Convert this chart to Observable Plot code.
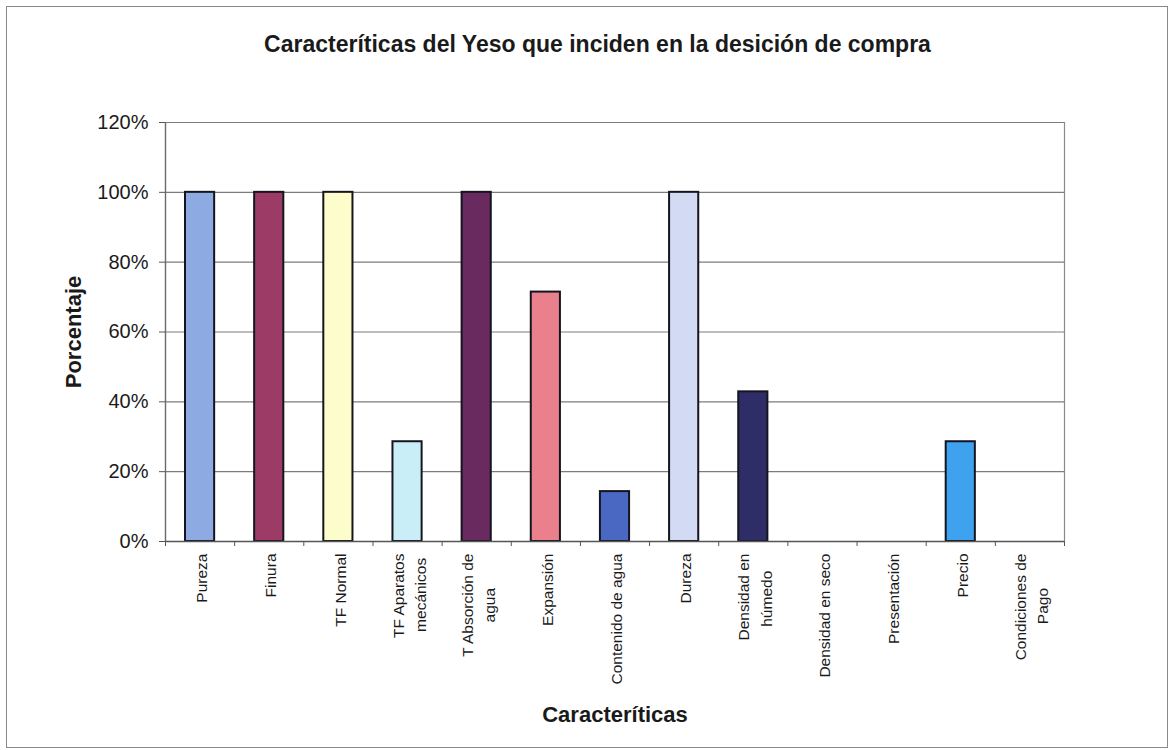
<!DOCTYPE html>
<html>
<head>
<meta charset="utf-8">
<script src="https://cdn.jsdelivr.net/npm/d3@7"></script>
<script src="https://cdn.jsdelivr.net/npm/@observablehq/plot@0.6"></script>
<style>
  html, body { margin: 0; padding: 0; background: #ffffff; }
  body { font-family: "Liberation Sans", Arial, sans-serif; }
  #wrap { position: relative; width: 1171px; height: 750px; overflow: hidden; background: #fff; }
  #frame { position: absolute; left: 6px; top: 6px; width: 1162px; height: 742px; border: 1.5px solid #8a8a8a; box-sizing: border-box; pointer-events: none; }
  #title { position: absolute; left: 12px; top: 31px; width: 1171px; text-align: center; font-weight: bold; font-size: 23px; color: #1a1a1a; white-space: nowrap; }
  #chart { position: absolute; left: 0; top: 0; }
  #chart svg { font-family: "Liberation Sans", Arial, sans-serif; }
  #chart g[aria-label="text"] text { white-space: pre; }
  g[aria-label="y-axis label"] text, g[aria-label="x-axis label"] text { font-size: 22px; font-weight: bold; fill: #1a1a1a; }
</style>
</head>
<body>
<div id="wrap">
  <div id="chart"></div>
  <div id="title">Caracteríticas del Yeso que inciden en la desición de compra</div>
  <div id="frame"></div>
</div>
<script>
const categories = [
  "Pureza", "Finura", "TF Normal", "TF Aparatos\nmecánicos", "T Absorción de\nagua",
  "Expansión", "Contenido de agua", "Dureza", "Densidad en\nhúmedo", "Densidad en seco",
  "Presentación", "Precio", "Condiciones de\nPago"
];
const values = [1.0, 1.0, 1.0, 0.2857, 1.0, 0.7143, 0.1429, 1.0, 0.4286, 0, 0, 0.2857, 0];
const colors = [
  "#8eaae2", "#9c3c66", "#fdfdcc", "#c9eef8", "#692a60",
  "#e9808c", "#4a68c2", "#d2daf4", "#2e2d68", "#9999ff",
  "#ffff99", "#3ea2ee", "#cccccc"
];
const yTicks = [0, 0.2, 0.4, 0.6, 0.8, 1.0, 1.2];

const labelFontSize = 15.5;

// Center the lines of a multi-line label (Excel-style) by padding shorter lines.
const ctx = document.createElement("canvas").getContext("2d");
ctx.font = `${labelFontSize}px "Liberation Sans", Arial, sans-serif`;
const spaceW = ctx.measureText(" ").width;
function centerLines(label) {
  const lines = label.split("\n");
  if (lines.length < 2) return label;
  const widths = lines.map(l => ctx.measureText(l).width);
  const maxW = Math.max(...widths);
  return lines.map((l, k) => l + " ".repeat(Math.max(0, Math.round((maxW - widths[k]) / 2 / spaceW)))).join("\n");
}

const rows = categories.map((c, i) => ({c, label: centerLines(c), i, v: values[i], color: colors[i]}));
const bars = rows.filter(d => d.v > 0);

const chart = Plot.plot({
  width: 1171,
  height: 750,
  marginLeft: 165,
  marginRight: 107,
  marginTop: 122,
  marginBottom: 209,
  style: {fontFamily: "Liberation Sans, Arial, sans-serif", color: "#1a1a1a", background: "transparent"},
  x: {type: "linear", domain: [0, categories.length]},
  y: {domain: [0, 1.2]},
  marks: [
    Plot.ruleY(yTicks.filter(t => t > 0), {stroke: "#7c7c7c", strokeWidth: 1.2}),
    Plot.ruleX([categories.length], {y1: 0, y2: 1.2, stroke: "#8a8a8a", strokeWidth: 1.2}),
    Plot.ruleX([0], {y1: 0, y2: 1.2, stroke: "#6a6a6a", strokeWidth: 1.4}),
    Plot.rectY(bars, {
      x1: d => d.i, x2: d => d.i + 1, y: "v",
      insetLeft: 20, insetRight: 20,
      fill: "color", stroke: "#15151f", strokeWidth: 2
    }),
    Plot.ruleY([0], {stroke: "#555", strokeWidth: 1.4}),
    Plot.axisY({
      ticks: yTicks, tickFormat: d3.format(".0%"), tickSize: 6, tickPadding: 11,
      fontSize: 20, stroke: "#555",
      label: "Porcentaje", labelAnchor: "center", labelOffset: 100, labelArrow: "none"
    }),
    Plot.axisX({
      ticks: d3.range(categories.length + 1), tickFormat: () => "", tickSize: 5,
      stroke: "#555",
      label: "Caracteríticas", labelAnchor: "center", labelOffset: 180, labelArrow: "none"
    }),
    Plot.text(rows, {
      x: d => d.i + 0.5, text: "label", frameAnchor: "bottom", dy: 12,
      rotate: -90, textAnchor: "end", lineAnchor: "middle",
      fontSize: labelFontSize, lineHeight: 1.45, fill: "#1a1a1a"
    })
  ]
});
document.getElementById("chart").appendChild(chart);
</script>
</body>
</html>
